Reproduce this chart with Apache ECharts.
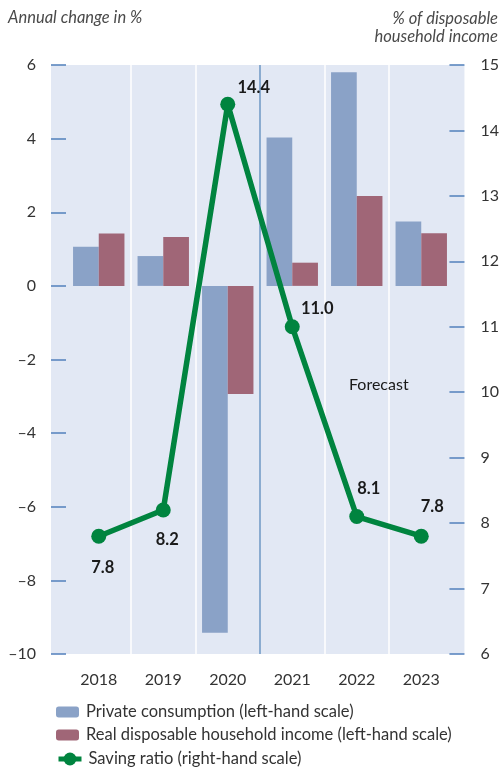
<!DOCTYPE html>
<html>
<head>
<meta charset="utf-8">
<script src="https://cdn.jsdelivr.net/npm/echarts@6/dist/echarts.min.js"></script>
<style>
  html, body { margin: 0; padding: 0; background: #ffffff; }
  #chart { width: 502px; height: 767px; }
</style>
</head>
<body>
<div id="chart"></div>
<script>
// ---- data ----
const categories = ['2018', '2019', '2020', '2021', '2022', '2023'];
const privateConsumption = [1.06, 0.81, -9.42, 4.03, 5.80, 1.75];
const realDisposableIncome = [1.42, 1.33, -2.94, 0.63, 2.44, 1.43];
const savingRatio = [7.8, 8.2, 14.4, 11.0, 8.1, 7.8];
const leftTicks = [-10, -8, -6, -4, -2, 0, 2, 4, 6];
const rightTicks = [6, 7, 8, 9, 10, 11, 12, 13, 14, 15];
const forecastFrom = '2021';
const seriesNames = [
  'Private consumption (left-hand scale)',
  'Real disposable household income (left-hand scale)',
  'Saving ratio (right-hand scale)'
];

// ---- styles ----
const FONT = 'Lato';
const labelOffsets = [[4, 31], [4, 30], [26, -17], [25, -18], [12, -28], [11, -30]];
const legendTops = [698, 721, 745];
const legendItemHeights = [11, 11, 16];
const leftMin = leftTicks[0], leftMax = leftTicks[leftTicks.length - 1];
const rightMin = rightTicks[0], rightMax = rightTicks[rightTicks.length - 1];
const fmt = v => (v < 0 ? '\u2013' + Math.abs(v) : String(v));

const TOP = 65, BOTTOM = 113;
const chart = echarts.init(document.getElementById('chart'), null, { renderer: 'canvas' });

const forecastIdx = categories.indexOf(forecastFrom);

const option = {
  animation: false,
  textStyle: { fontFamily: FONT },
  grid: [
    { left: 51, right: 34, top: TOP, bottom: BOTTOM, show: true, backgroundColor: '#e2e8f4', borderWidth: 0 },
    { left: 66.5, right: 48.5, top: TOP, bottom: BOTTOM, show: false }
  ],
  legend: seriesNames.map((n, i) => ({
    orient: 'vertical', left: 51, top: legendTops[i],
    itemWidth: 23, itemHeight: legendItemHeights[i],
    data: [n],
    lineStyle: i === 2 ? { width: 5 } : undefined,
    textStyle: { fontFamily: FONT, fontSize: 16.5, color: '#333', lineHeight: 18, padding: [0, 0, 0, 2] }
  })),
  xAxis: [
    { gridIndex: 0, type: 'value', min: 0, max: 1, show: false },
    {
      gridIndex: 1, type: 'category', data: categories,
      axisLine: { show: false }, axisTick: { show: false },
      axisLabel: { fontFamily: FONT, fontSize: 16, color: '#333', margin: 18 },
      splitLine: { show: true, showMinLine: false, showMaxLine: false, lineStyle: { color: '#ffffff', width: 1.5 } }
    },
    { gridIndex: 1, type: 'value', min: 0, max: categories.length, show: false }
  ],
  yAxis: [
    {
      gridIndex: 0, type: 'value', position: 'left', min: leftMin, max: leftMax, interval: 2,
      axisLine: { show: false },
      axisTick: { show: true, inside: true, length: 15, lineStyle: { color: '#5b86bf', width: 1.6 } },
      axisLabel: { fontFamily: FONT, fontSize: 16, color: '#333', margin: 15, formatter: fmt },
      splitLine: { show: false }
    },
    {
      gridIndex: 0, type: 'value', position: 'right', min: rightMin, max: rightMax, interval: 1,
      axisLine: { show: false },
      axisTick: { show: true, inside: true, length: 15, lineStyle: { color: '#5b86bf', width: 1.6 } },
      axisLabel: { fontFamily: FONT, fontSize: 16, color: '#333', margin: 16 },
      splitLine: { show: false }
    },
    { gridIndex: 1, type: 'value', min: leftMin, max: leftMax, show: false, splitLine: { show: false } },
    { gridIndex: 1, type: 'value', min: rightMin, max: rightMax, show: false, splitLine: { show: false } }
  ],
  series: [
    {
      name: seriesNames[0], type: 'bar', xAxisIndex: 1, yAxisIndex: 2,
      data: privateConsumption, barWidth: 25.7, barGap: '0%',
      itemStyle: { color: '#8aa2c7' }, z: 3
    },
    {
      name: seriesNames[1], type: 'bar', xAxisIndex: 1, yAxisIndex: 2,
      data: realDisposableIncome, barWidth: 25.7, barGap: '0%',
      itemStyle: { color: '#a06677' }, z: 3
    },
    {
      name: 'forecast', type: 'line', xAxisIndex: 2, yAxisIndex: 2,
      data: [[forecastIdx, leftMin], [forecastIdx, leftMax]],
      symbol: 'none', silent: true,
      lineStyle: { color: '#4f82b9', width: 1.3 }, z: 4
    },
    {
      name: seriesNames[2], type: 'line', xAxisIndex: 1, yAxisIndex: 3,
      data: savingRatio.map((v, i) => ({
        value: v,
        label: { offset: labelOffsets[i] }
      })),
      symbol: 'circle', symbolSize: 15,
      lineStyle: { color: '#00843f', width: 5.5 },
      itemStyle: { color: '#00843f' },
      label: {
        show: true, position: 'inside', fontFamily: FONT, fontSize: 16.5, fontWeight: 'bold',
        color: '#1a1a1a', formatter: p => p.value.toFixed(1)
      },
      z: 5
    }
  ],
  graphic: [
    {
      type: 'text', left: 8, top: 9, z: 10,
      style: { text: 'Annual change in %', font: 'italic 16.5px Lato', fill: '#4a4a4a' }
    },
    {
      type: 'text', x: 498, y: 10, z: 10,
      style: { text: '% of disposable\nhousehold income', font: 'italic 16.5px Lato', fill: '#4a4a4a', align: 'right', lineHeight: 18 }
    },
    {
      type: 'text', left: 349, top: 377, z: 10,
      style: { text: 'Forecast', font: '16px Lato', fill: '#1a1a1a' }
    }
  ]
};
chart.setOption(option);
</script>
</body>
</html>
